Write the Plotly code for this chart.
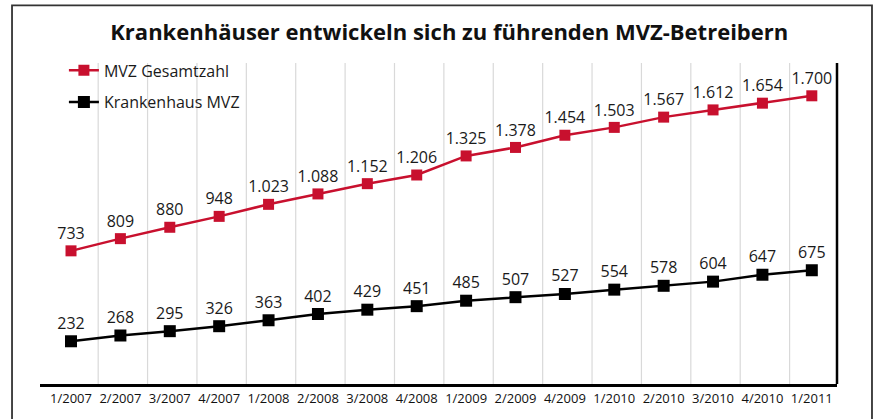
import plotly.graph_objects as go

categories = ["1/2007", "2/2007", "3/2007", "4/2007", "1/2008", "2/2008", "3/2008", "4/2008",
              "1/2009", "2/2009", "4/2009", "1/2010", "2/2010", "3/2010", "4/2010", "1/2011"]
mvz_gesamt = [733, 809, 880, 948, 1023, 1088, 1152, 1206, 1325, 1378, 1454, 1503, 1567, 1612, 1654, 1700]
kh_mvz = [232, 268, 295, 326, 363, 402, 429, 451, 485, 507, 527, 554, 578, 604, 647, 675]

RED = "#c8102e"
BLACK = "#000000"
FONT = "Open Sans"

def fmt(v):
    return f"{v:,}".replace(",", ".")

idx = list(range(len(categories)))

fig = go.Figure()
fig.add_trace(go.Scatter(
    x=idx, y=mvz_gesamt, mode="lines+markers+text", name="MVZ Gesamtzahl",
    line=dict(color=RED, width=2.5), marker=dict(symbol="square", size=11, color=RED),
    text=[fmt(v) for v in mvz_gesamt], textposition="top center",
    textfont=dict(family=FONT, size=16, color="#1a1a1a"), legendgroup="a", cliponaxis=False,
))
fig.add_trace(go.Scatter(
    x=idx, y=kh_mvz, mode="lines+markers+text", name="Krankenhaus MVZ", yaxis="y2",
    line=dict(color=BLACK, width=2.5), marker=dict(symbol="square", size=12, color=BLACK),
    text=[fmt(v) for v in kh_mvz], textposition="top center",
    textfont=dict(family=FONT, size=16, color="#1a1a1a"), legendgroup="b", cliponaxis=False,
))

shapes = []
for k in range(len(categories) - 1):
    shapes.append(dict(type="line", xref="x", yref="paper", x0=k + 0.55, x1=k + 0.55, y0=0, y1=1,
                       line=dict(color="#d9d9d9", width=1.2), layer="below"))
# right edge thick line
shapes.append(dict(type="line", xref="paper", yref="paper", x0=1, x1=1, y0=0, y1=1,
                   line=dict(color="black", width=2.5)))
# outer frame
shapes.append(dict(type="rect", xref="paper", yref="paper", x0=-0.0351, x1=1.0439, y0=-0.2, y1=1.1796,
                   line=dict(color="#333333", width=1.8), layer="below"))

fig.update_layout(
    width=874, height=419,
    margin=dict(l=40, r=37, t=63, b=33),
    paper_bgcolor="white", plot_bgcolor="white",
    title=dict(text="<b>Krankenhäuser entwickeln sich zu führenden MVZ-Betreibern</b>",
               x=0.514, xanchor="center", y=0.924, yanchor="middle",
               font=dict(family=FONT, size=22, color="#111111")),
    xaxis=dict(range=[-0.628, 15.51], tickmode="array", tickvals=idx, ticktext=categories,
               showgrid=False, zeroline=False, showline=True, linecolor="black", linewidth=3,
               ticks="", tickfont=dict(family=FONT, size=13, color="#111111")),
    yaxis=dict(range=[-97.6, 1904.6], visible=False, showgrid=False, zeroline=False),
    yaxis2=dict(range=[-34.5, 1967.7], visible=False, overlaying="y", showgrid=False, zeroline=False),
    legend=dict(x=0.03, y=1.03, xanchor="left", yanchor="top", bgcolor="rgba(0,0,0,0)",
                font=dict(family=FONT, size=16, color="#1a1a1a"), itemwidth=30, tracegroupgap=8),
    shapes=shapes,
    showlegend=True,
)

fig.write_html("out.html", config={"displayModeBar": False},
               post_script="document.body.style.margin='0';document.body.style.overflow='hidden';")
